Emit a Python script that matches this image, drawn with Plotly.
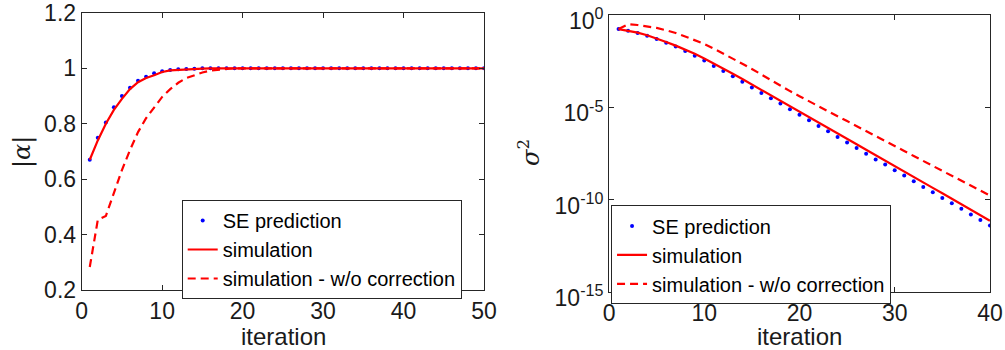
import plotly.graph_objects as go

# ---------------- data ----------------
iter_left = list(range(1, 51))
alpha_se = [0.67, 0.75, 0.805, 0.86, 0.90, 0.93, 0.955, 0.97, 0.982, 0.99,
            0.994, 0.997, 0.998, 0.999] + [1.0] * 36
alpha_sim = [0.67, 0.74, 0.80, 0.85, 0.89, 0.925, 0.95, 0.965, 0.975, 0.987,
             0.993, 0.995, 0.997, 0.998, 0.999] + [1.0] * 35
alpha_sim_nocorr = [0.283, 0.453, 0.467, 0.55, 0.633, 0.705, 0.77, 0.82, 0.86, 0.897,
                    0.925, 0.948, 0.965, 0.976, 0.985, 0.992, 0.996, 0.998] + [1.0] * 32

iter_right = list(range(1, 41))
sigma2_se = [1.74e-1, 1.41e-1, 1.07e-1, 7.59e-2, 5.01e-2, 3.16e-2, 1.95e-2, 1.12e-2, 6.3e-3, 3.4e-3,
             1.74e-3, 9.3e-4, 4.8e-4, 2.45e-4, 1.2e-4, 6.0e-5, 3.1e-5, 1.6e-5, 7.8e-6, 4.0e-6,
             2.0e-6, 9.8e-7, 5.0e-7, 2.45e-7, 1.26e-7, 6.3e-8, 3.1e-8, 1.5e-8, 7.9e-9, 3.9e-9,
             2.0e-9, 1.0e-9, 4.9e-10, 2.5e-10, 1.23e-10, 6.3e-11, 3.2e-11, 1.55e-11, 7.9e-12, 3.9e-12]
sigma2_sim = [1.74e-1, 1.45e-1, 1.12e-1, 8.1e-2, 5.5e-2, 3.5e-2, 2.2e-2, 1.35e-2, 7.9e-3, 4.4e-3,
              2.4e-3, 1.26e-3, 6.6e-4, 3.4e-4, 1.74e-4, 8.9e-5, 4.5e-5, 2.3e-5, 1.15e-5, 5.9e-6,
              2.95e-6, 1.5e-6, 7.6e-7, 3.9e-7, 1.95e-7, 1.0e-7, 5.0e-8, 2.5e-8, 1.29e-8, 6.5e-9,
              3.3e-9, 1.66e-9, 8.5e-10, 4.3e-10, 2.2e-10, 1.1e-10, 5.6e-11, 2.8e-11, 1.45e-11, 7.2e-12]
sigma2_sim_nocorr = [1.74e-1, 3.2e-1, 2.9e-1, 2.45e-1, 2.0e-1, 1.48e-1, 1.07e-1, 6.9e-2, 4.5e-2, 2.7e-2,
                     1.5e-2, 8.3e-3, 4.5e-3, 2.3e-3, 1.2e-3, 5.9e-4, 3.0e-4, 1.48e-4, 7.6e-5, 4.0e-5,
                     2.1e-5, 1.15e-5, 6.2e-6, 3.3e-6, 1.8e-6, 9.5e-7, 5.1e-7, 2.75e-7, 1.48e-7, 7.9e-8,
                     4.3e-8, 2.3e-8, 1.23e-8, 6.6e-9, 3.5e-9, 1.9e-9, 1.0e-9, 5.5e-10, 3.0e-10, 1.66e-10]

left_x_ticks = [0, 10, 20, 30, 40, 50]
left_y_ticks = [0.2, 0.4, 0.6, 0.8, 1.0, 1.2]
left_y_labels = ["0.2", "0.4", "0.6", "0.8", "1", "1.2"]
right_x_ticks = [0, 10, 20, 30, 40]
right_y_ticks = [1e0, 1e-5, 1e-10, 1e-15]
right_y_labels = ["10<sup>0</sup>", "10<sup>-5</sup>", "10<sup>-10</sup>", "10<sup>-15</sup>"]
legend_names = ["SE prediction", "simulation", "simulation - w/o correction"]

# ---------------- figure ----------------
FONT = "Liberation Sans, Arial, Helvetica, sans-serif"
AX = "#262626"
TXT = "#1a1a1a"
fig = go.Figure()

# left panel
fig.add_trace(go.Scatter(x=iter_left, y=alpha_se, mode="markers", name=legend_names[0],
                         marker=dict(color="#0000ff", size=4), xaxis="x", yaxis="y", legend="legend"))
fig.add_trace(go.Scatter(x=iter_left, y=alpha_sim, mode="lines", name=legend_names[1],
                         line=dict(color="#ff0000", width=2.2), xaxis="x", yaxis="y", legend="legend"))
fig.add_trace(go.Scatter(x=iter_left, y=alpha_sim_nocorr, mode="lines", name=legend_names[2],
                         line=dict(color="#ff0000", width=2.2, dash="8px,5px"), xaxis="x", yaxis="y",
                         legend="legend"))

# right panel
fig.add_trace(go.Scatter(x=iter_right, y=sigma2_se, mode="markers", name=legend_names[0],
                         marker=dict(color="#0000ff", size=4), xaxis="x2", yaxis="y2", legend="legend2"))
fig.add_trace(go.Scatter(x=iter_right, y=sigma2_sim, mode="lines", name=legend_names[1],
                         line=dict(color="#ff0000", width=2.2), xaxis="x2", yaxis="y2", legend="legend2"))
fig.add_trace(go.Scatter(x=iter_right, y=sigma2_sim_nocorr, mode="lines", name=legend_names[2],
                         line=dict(color="#ff0000", width=2.2, dash="8px,5px"), xaxis="x2", yaxis="y2",
                         legend="legend2"))

axis_common = dict(showline=True, linecolor=AX, linewidth=1, mirror="ticks", ticks="inside",
                   ticklen=5, tickcolor=AX, showgrid=False, zeroline=False, automargin=False,
                   ticklabeloverflow="allow",
                   tickfont=dict(family=FONT, size=23, color=TXT))

legend_common = dict(font=dict(family=FONT, size=20, color="#000000"), bgcolor="white",
                     bordercolor=AX, borderwidth=1, xanchor="left", yanchor="top",
                     tracegroupgap=0, itemwidth=30)

fig.update_layout(
    width=1005, height=350,
    margin=dict(l=0, r=0, t=0, b=0),
    paper_bgcolor="white", plot_bgcolor="white",
    xaxis=dict(domain=[0.0813, 0.4816], range=[0, 50], tickvals=left_x_ticks, anchor="y", **axis_common),
    yaxis=dict(domain=[0.1714, 0.963], range=[0.2, 1.2], tickvals=left_y_ticks, ticktext=left_y_labels,
               anchor="x", **axis_common),
    xaxis2=dict(domain=[0.606, 0.985], range=[0, 40], tickvals=right_x_ticks, anchor="y2", **axis_common),
    yaxis2=dict(domain=[0.166, 0.957], type="log", range=[-15, 0], tickvals=right_y_ticks,
                ticktext=right_y_labels, anchor="x2", ticklabelshift=6, **axis_common),
    legend=dict(x=0.1808, y=0.4286, **legend_common),
    legend2=dict(x=0.608, y=0.413, **legend_common),
    annotations=[
        dict(text="iteration", x=283 / 1005, y=0.038, xref="paper", yref="paper", showarrow=False,
             font=dict(family=FONT, size=24, color=TXT), xanchor="center", yanchor="middle"),
        dict(text="iteration", x=799 / 1005, y=0.038, xref="paper", yref="paper", showarrow=False,
             font=dict(family=FONT, size=24, color=TXT), xanchor="center", yanchor="middle"),
        dict(text="|<i>α</i>|", x=22 / 1005, y=(350 - 152) / 350, xref="paper", yref="paper",
             showarrow=False, textangle=-90, font=dict(family="DejaVu Serif, serif", size=24, color=TXT),
             xanchor="center", yanchor="middle"),
        dict(text="<i>σ</i><sup>2</sup>", x=529 / 1005, y=(350 - 153) / 350, xref="paper", yref="paper",
             showarrow=False, textangle=-90, font=dict(family="DejaVu Serif, serif", size=24, color=TXT),
             xanchor="center", yanchor="middle"),
    ],
)

fig.write_html("out.html")
